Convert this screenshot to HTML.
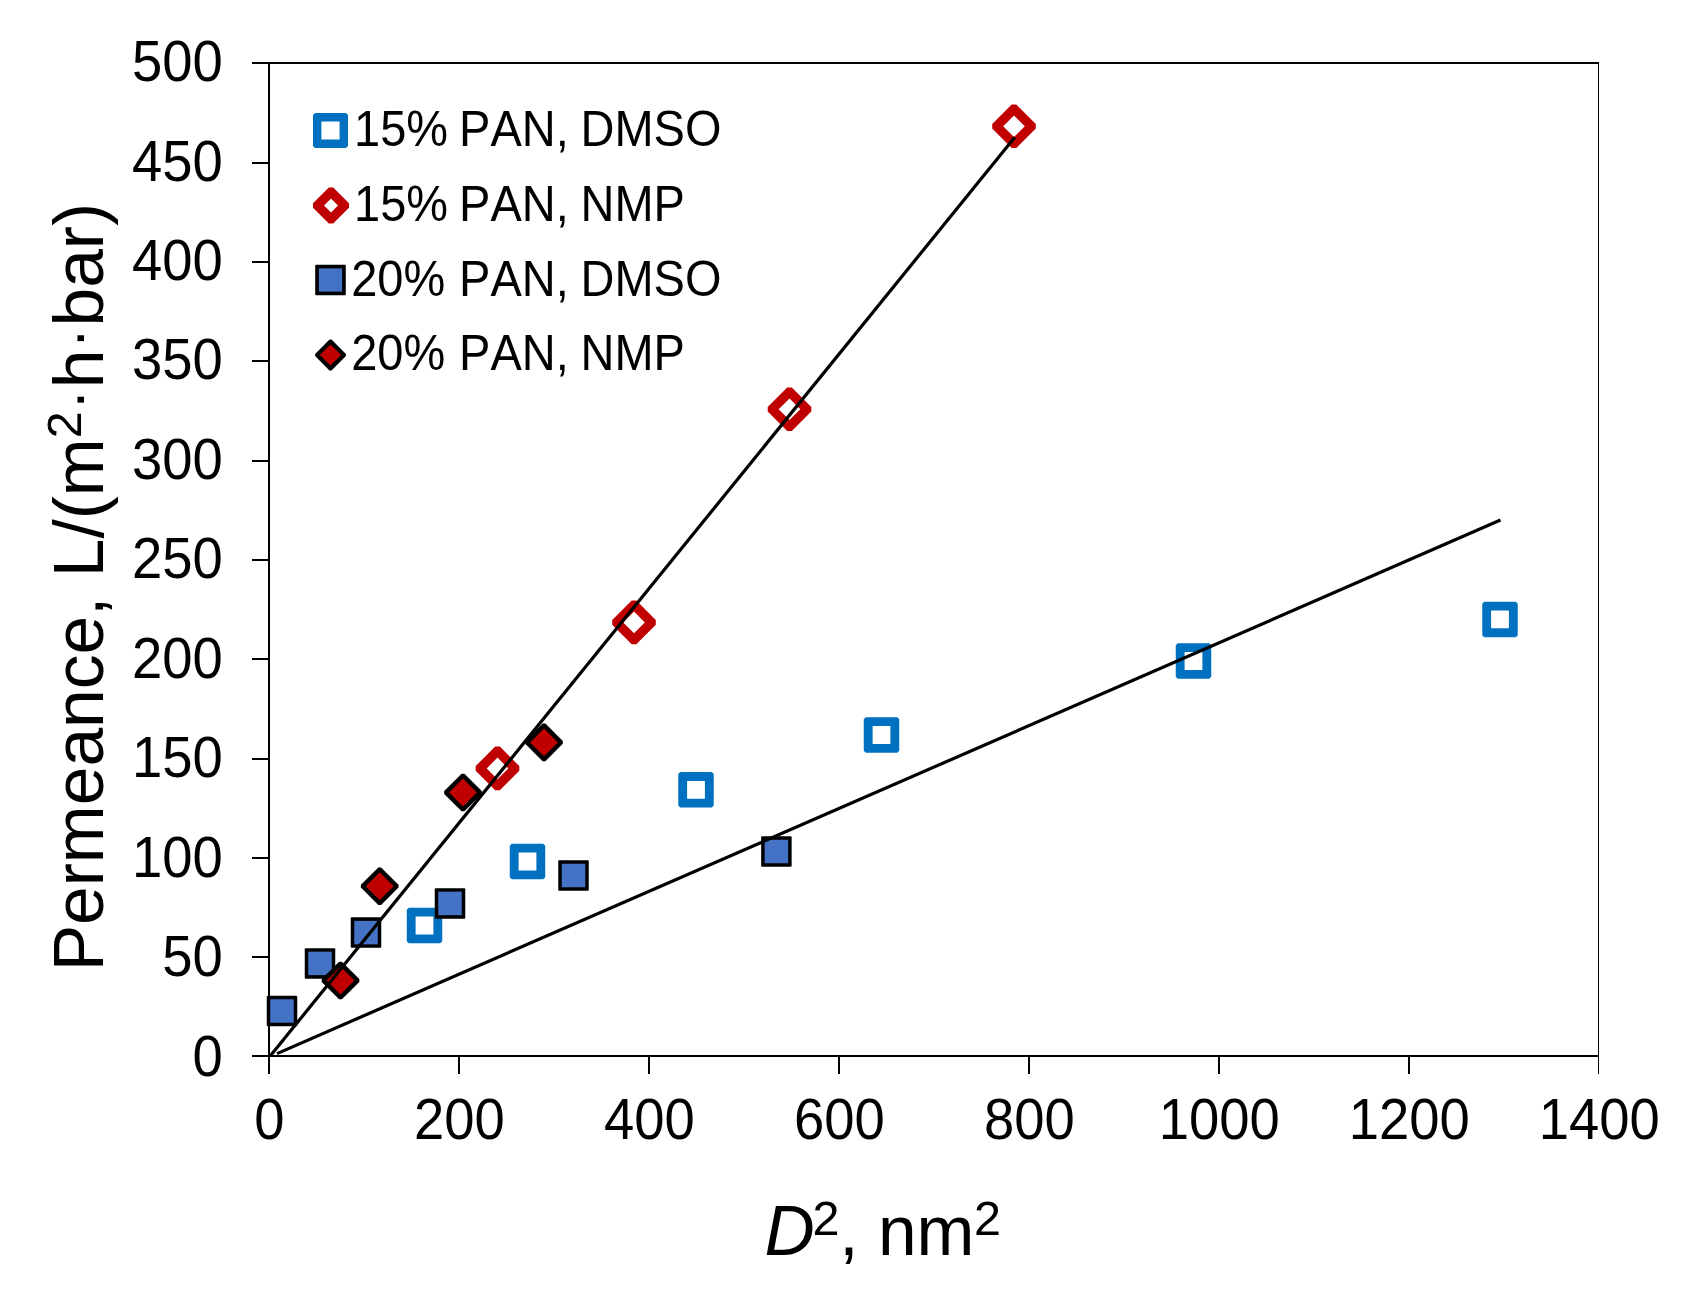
<!DOCTYPE html>
<html lang="en"><head><meta charset="utf-8"><title>Permeance vs D squared</title>
<style>html,body{margin:0;padding:0;background:#fff;}body{width:1691px;height:1297px;overflow:hidden;}svg{display:block;}text{font-family:"Liberation Sans", sans-serif;fill:#000;font-kerning:none;}</style>
</head><body>
<svg width="1691" height="1297" viewBox="0 0 1691 1297">
<rect x="0" y="0" width="1691" height="1297" fill="#fff"/>
<g fill="#000" shape-rendering="crispEdges">
<rect x="252" y="62" width="1347" height="2"/>
<rect x="1598" y="62" width="1" height="1012"/>
<rect x="268" y="62" width="2" height="1012"/>
<rect x="252" y="1055" width="1347" height="2"/>
<rect x="252" y="162" width="16" height="2"/>
<rect x="252" y="261" width="16" height="2"/>
<rect x="252" y="360" width="16" height="2"/>
<rect x="252" y="460" width="16" height="2"/>
<rect x="252" y="559" width="16" height="2"/>
<rect x="252" y="658" width="16" height="2"/>
<rect x="252" y="758" width="16" height="2"/>
<rect x="252" y="857" width="16" height="2"/>
<rect x="252" y="956" width="16" height="2"/>
<rect x="458" y="1057" width="2" height="17"/>
<rect x="648" y="1057" width="2" height="17"/>
<rect x="838" y="1057" width="2" height="17"/>
<rect x="1028" y="1057" width="2" height="17"/>
<rect x="1218" y="1057" width="2" height="17"/>
<rect x="1408" y="1057" width="2" height="17"/>
</g>
<g>
<path d="M408.75 907.75L440.25 907.75L442.25 909.75L442.25 941.25L440.25 943.25L408.75 943.25L406.75 941.25L406.75 909.75ZM415.6 916.6L415.6 934.4L433.4 934.4L433.4 916.6Z" fill="#0070C0" fill-rule="evenodd"/>
<path d="M511.75 843.75L543.25 843.75L545.25 845.75L545.25 877.25L543.25 879.25L511.75 879.25L509.75 877.25L509.75 845.75ZM518.6 852.6L518.6 870.4L536.4 870.4L536.4 852.6Z" fill="#0070C0" fill-rule="evenodd"/>
<path d="M680.25 772.05L711.75 772.05L713.75 774.05L713.75 805.55L711.75 807.55L680.25 807.55L678.25 805.55L678.25 774.05ZM687.1 780.9L687.1 798.7L704.9 798.7L704.9 780.9Z" fill="#0070C0" fill-rule="evenodd"/>
<path d="M865.75 717.25L897.25 717.25L899.25 719.25L899.25 750.75L897.25 752.75L865.75 752.75L863.75 750.75L863.75 719.25ZM872.6 726.1L872.6 743.9L890.4 743.9L890.4 726.1Z" fill="#0070C0" fill-rule="evenodd"/>
<path d="M1177.75 643.25L1209.25 643.25L1211.25 645.25L1211.25 676.75L1209.25 678.75L1177.75 678.75L1175.75 676.75L1175.75 645.25ZM1184.6 652.1L1184.6 669.9L1202.4 669.9L1202.4 652.1Z" fill="#0070C0" fill-rule="evenodd"/>
<path d="M1484.25 601.65L1515.75 601.65L1517.75 603.65L1517.75 635.15L1515.75 637.15L1484.25 637.15L1482.25 635.15L1482.25 603.65ZM1491.1 610.5L1491.1 628.3L1508.9 628.3L1508.9 610.5Z" fill="#0070C0" fill-rule="evenodd"/>
<path d="M495.2 746.6L499.8 746.6L519.3 766.1L519.3 770.7L499.8 790.2L495.2 790.2L475.7 770.7L475.7 766.1ZM497.5 757.6L486.7 768.4L497.5 779.2L508.3 768.4Z" fill="#C00000" fill-rule="evenodd"/>
<path d="M631.7 600.6L636.3 600.6L655.8 620.1L655.8 624.7L636.3 644.2L631.7 644.2L612.2 624.7L612.2 620.1ZM634 611.6L623.2 622.4L634 633.2L644.8 622.4Z" fill="#C00000" fill-rule="evenodd"/>
<path d="M787.2 387.5L791.8 387.5L811.3 407L811.3 411.6L791.8 431.1L787.2 431.1L767.7 411.6L767.7 407ZM789.5 398.5L778.7 409.3L789.5 420.1L800.3 409.3Z" fill="#C00000" fill-rule="evenodd"/>
<path d="M1011.7 104.5L1016.3 104.5L1035.8 124L1035.8 128.6L1016.3 148.1L1011.7 148.1L992.2 128.6L992.2 124ZM1014 115.5L1003.2 126.3L1014 137.1L1024.8 126.3Z" fill="#C00000" fill-rule="evenodd"/>
<rect x="266.75" y="995.75" width="30.5" height="30.5" rx="1" fill="#000"/><rect x="270.25" y="999.25" width="23.5" height="23.5" fill="#4472C4"/>
<rect x="304.75" y="948.15" width="30.5" height="30.5" rx="1" fill="#000"/><rect x="308.25" y="951.65" width="23.5" height="23.5" fill="#4472C4"/>
<rect x="350.75" y="917.35" width="30.5" height="30.5" rx="1" fill="#000"/><rect x="354.25" y="920.85" width="23.5" height="23.5" fill="#4472C4"/>
<rect x="434.75" y="888.15" width="30.5" height="30.5" rx="1" fill="#000"/><rect x="438.25" y="891.65" width="23.5" height="23.5" fill="#4472C4"/>
<rect x="558.25" y="860.25" width="30.5" height="30.5" rx="1" fill="#000"/><rect x="561.75" y="863.75" width="23.5" height="23.5" fill="#4472C4"/>
<rect x="761.15" y="836.25" width="30.5" height="30.5" rx="1" fill="#000"/><rect x="764.65" y="839.75" width="23.5" height="23.5" fill="#4472C4"/>
<path d="M339.1 961.7L341.9 961.7L359.3 979.1L359.3 981.9L341.9 999.3L339.1 999.3L321.7 981.9L321.7 979.1Z" fill="#000"/><path d="M340.5 966.6L354.4 980.5L340.5 994.4L326.6 980.5Z" fill="#C00000"/>
<path d="M378.3 867.4L381.1 867.4L398.5 884.8L398.5 887.6L381.1 905L378.3 905L360.9 887.6L360.9 884.8Z" fill="#000"/><path d="M379.7 872.3L393.6 886.2L379.7 900.1L365.8 886.2Z" fill="#C00000"/>
<path d="M461.6 773.7L464.4 773.7L481.8 791.1L481.8 793.9L464.4 811.3L461.6 811.3L444.2 793.9L444.2 791.1Z" fill="#000"/><path d="M463 778.6L476.9 792.5L463 806.4L449.1 792.5Z" fill="#C00000"/>
<path d="M542.6 723.6L545.4 723.6L562.8 741L562.8 743.8L545.4 761.2L542.6 761.2L525.2 743.8L525.2 741Z" fill="#000"/><path d="M544 728.5L557.9 742.4L544 756.3L530.1 742.4Z" fill="#C00000"/>
</g>
<g stroke="#000" stroke-width="3.2" fill="none">
<line x1="270.2" y1="1056" x2="1014.8" y2="137.2"/>
<line x1="277" y1="1053.6" x2="1500.5" y2="520"/>
</g>
<path d="M315 113L346 113L348 115L348 146L346 148L315 148L313 146L313 115ZM321.4 121.4L321.4 139.6L339.6 139.6L339.6 121.4Z" fill="#0070C0" fill-rule="evenodd"/>
<path d="M328.8 187.5L333.2 187.5L349 203.3L349 207.7L333.2 223.5L328.8 223.5L313 207.7L313 203.3ZM331 198.5L324 205.5L331 212.5L338 205.5Z" fill="#C00000" fill-rule="evenodd"/>
<rect x="315.2" y="264.7" width="30.6" height="30.6" rx="1" fill="#000"/><rect x="318.9" y="268.4" width="23.2" height="23.2" fill="#4472C4"/>
<path d="M329.5 339.6L331.5 339.6L345.9 354L345.9 356L331.5 370.4L329.5 370.4L315.1 356L315.1 354Z" fill="#000"/><path d="M330.5 344.4L341.1 355L330.5 365.6L319.9 355Z" fill="#C00000"/>
<g font-size="47">
<text transform="translate(354 145.8) scale(1 1.055)">15%</text>
<text transform="translate(459.1 145.8) scale(1 1.055)">PAN,</text>
<text transform="translate(580.5 145.8) scale(1 1.055)">DMSO</text>
<text transform="translate(354 220.8) scale(1 1.055)">15%</text>
<text transform="translate(459.1 220.8) scale(1 1.055)">PAN,</text>
<text transform="translate(580.5 220.8) scale(1 1.055)">NMP</text>
<text transform="translate(351.2 295.7) scale(1 1.055)">20%</text>
<text transform="translate(459.1 295.7) scale(1 1.055)">PAN,</text>
<text transform="translate(580.5 295.7) scale(1 1.055)">DMSO</text>
<text transform="translate(351.2 369.9) scale(1 1.055)">20%</text>
<text transform="translate(459.1 369.9) scale(1 1.055)">PAN,</text>
<text transform="translate(580.5 369.9) scale(1 1.055)">NMP</text>
</g>
<g font-size="54.4" text-anchor="end">
<text transform="translate(222.8 81.1) scale(1 1.042)">500</text>
<text transform="translate(222.8 180.55) scale(1 1.042)">450</text>
<text transform="translate(222.8 280) scale(1 1.042)">400</text>
<text transform="translate(222.8 379.45) scale(1 1.042)">350</text>
<text transform="translate(222.8 478.9) scale(1 1.042)">300</text>
<text transform="translate(222.8 578.35) scale(1 1.042)">250</text>
<text transform="translate(222.8 677.8) scale(1 1.042)">200</text>
<text transform="translate(222.8 777.25) scale(1 1.042)">150</text>
<text transform="translate(222.8 876.7) scale(1 1.042)">100</text>
<text transform="translate(222.8 976.15) scale(1 1.042)">50</text>
<text transform="translate(222.8 1075.6) scale(1 1.042)">0</text>
</g>
<g font-size="54.4" text-anchor="middle">
<text transform="translate(269.3 1138.6) scale(1 1.042)">0</text>
<text transform="translate(459.3 1138.6) scale(1 1.042)">200</text>
<text transform="translate(649.3 1138.6) scale(1 1.042)">400</text>
<text transform="translate(839.3 1138.6) scale(1 1.042)">600</text>
<text transform="translate(1029.3 1138.6) scale(1 1.042)">800</text>
<text transform="translate(1219.3 1138.6) scale(1 1.042)">1000</text>
<text transform="translate(1409.3 1138.6) scale(1 1.042)">1200</text>
<text transform="translate(1599.3 1138.6) scale(1 1.042)">1400</text>
</g>
<g font-size="69.5">
<text x="764.6" y="1254.8" font-style="italic">D</text>
<text x="812.4" y="1235.4" font-size="48.5">2</text>
<text x="839.3" y="1254.8">, nm</text>
<text x="973.9" y="1235.4" font-size="48.5">2</text>
<text transform="translate(103.2 971.3) rotate(-90)">Permeance, L/(m<tspan font-size="48.5" dy="-21.8">2</tspan><tspan font-size="62" dx="1.2" dy="15.2">·</tspan><tspan dx="1.2" dy="6.6">h</tspan><tspan font-size="62" dx="1.2" dy="-6.6">·</tspan><tspan dx="1.2" dy="6.6">bar)</tspan></text>
</g>
</svg>
</body></html>
